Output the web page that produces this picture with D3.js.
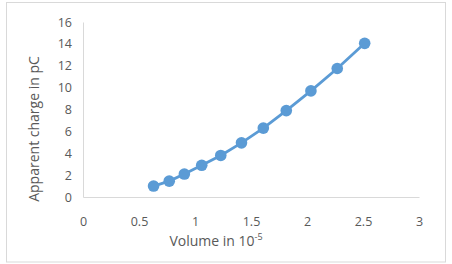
<!DOCTYPE html>
<html>
<head>
<meta charset="utf-8">
<script src="https://cdn.jsdelivr.net/npm/d3@7"></script>
<style>
  body { margin: 0; background: #fff; }
  svg { display: block; }
</style>
</head>
<body>
<svg id="mainSVG" width="452" height="264"></svg>
<script>
// data
var volume = [0.63, 0.77, 0.905, 1.06, 1.23, 1.415, 1.61, 1.815, 2.035, 2.27, 2.515];
var charge = [1.0, 1.45, 2.1, 2.9, 3.8, 4.95, 6.3, 7.9, 9.7, 11.75, 14.05];
var xTicks = [0, 0.5, 1, 1.5, 2, 2.5, 3];
var yTicks = [0, 2, 4, 6, 8, 10, 12, 14, 16];

var mainSVG = d3.select("#mainSVG");
var font = "'Open Sans', sans-serif";
var textColor = "#595959";
var blue = "#5b9bd5";

// frame
mainSVG.append("rect")
  .attr("x", 6.5).attr("y", 2.5)
  .attr("width", 439).attr("height", 259.5)
  .attr("fill", "#fff")
  .attr("stroke", "#d9d9d9");

// scales
var xScale = d3.scaleLinear().domain([0, 3]).range([83, 419]);
var yScale = d3.scaleLinear().domain([0, 16]).range([197, 22]);

// axes
var xAxis = d3.axisBottom(xScale).tickValues(xTicks).tickSize(0).tickPadding(20)
  .tickFormat(function (d) { return d; });
var xAxisGroup = mainSVG.append("g")
  .attr("transform", "translate(0," + yScale(0) + ")")
  .call(xAxis);
xAxisGroup.select(".domain").attr("stroke", "#d9d9d9").attr("stroke-width", 1);
xAxisGroup.selectAll("text")
  .attr("fill", textColor).style("font-family", font).style("font-size", "12.5px");

var yAxis = d3.axisLeft(yScale).tickValues(yTicks).tickSize(0).tickPadding(11)
  .tickFormat(function (d) { return d; });
var yAxisGroup = mainSVG.append("g")
  .attr("transform", "translate(" + xScale(0) + ",0)")
  .call(yAxis);
yAxisGroup.select(".domain").attr("stroke", "#d9d9d9").attr("stroke-width", 1);
yAxisGroup.selectAll("text")
  .attr("fill", textColor).style("font-family", font).style("font-size", "12.5px");

// series
var points = volume.map(function (v, i) { return { x: v, y: charge[i] }; });
var line = d3.line()
  .x(function (d) { return xScale(d.x); })
  .y(function (d) { return yScale(d.y); });

mainSVG.append("path")
  .datum(points)
  .attr("d", line)
  .attr("fill", "none")
  .attr("stroke", blue)
  .attr("stroke-width", 2.8)
  .attr("stroke-linejoin", "round");

mainSVG.selectAll(".dot")
  .data(points)
  .enter().append("circle")
  .attr("class", "dot")
  .attr("cx", function (d) { return xScale(d.x); })
  .attr("cy", function (d) { return yScale(d.y); })
  .attr("r", 5.8)
  .attr("fill", blue);

// axis titles
var xTitle = mainSVG.append("text")
  .attr("x", 216).attr("y", 246)
  .attr("text-anchor", "middle")
  .attr("fill", textColor)
  .style("font-family", font).style("font-size", "14px");
xTitle.append("tspan").text("Volume in 10");
xTitle.append("tspan").attr("dy", -6).style("font-size", "9px").text("-5");

mainSVG.append("text")
  .attr("transform", "translate(39,129) rotate(-90)")
  .attr("text-anchor", "middle")
  .attr("fill", textColor)
  .style("font-family", font).style("font-size", "14px")
  .text("Apparent charge in pC");
</script>
</body>
</html>
